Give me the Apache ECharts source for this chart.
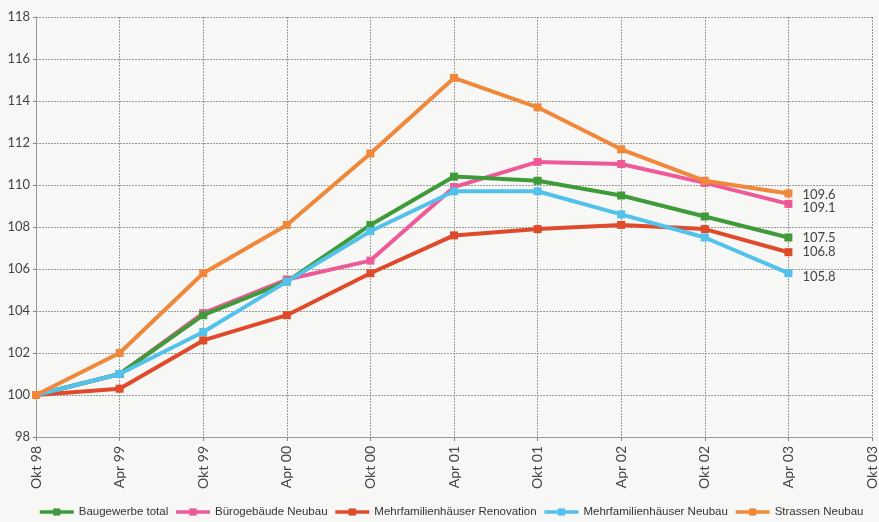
<!DOCTYPE html>
<html>
<head>
<meta charset="utf-8">
<script src="https://cdn.jsdelivr.net/npm/echarts@6/dist/echarts.min.js"></script>
<style>
  html, body { margin: 0; padding: 0; background: #f7f7f6; }
  #chart { width: 879px; height: 522px; }
</style>
</head>
<body>
<div id="chart"></div>
<script>
// Baupreisindex, Okt 98 = 100
const periods = ['Okt 98', 'Apr 99', 'Okt 99', 'Apr 00', 'Okt 00', 'Apr 01', 'Okt 01', 'Apr 02', 'Okt 02', 'Apr 03', 'Okt 03'];

const baugewerbeTotal = [100, 101.0, 103.8, 105.4, 108.1, 110.4, 110.2, 109.5, 108.5, 107.5];
const buerogebaeudeNeubau = [100, 101.0, 103.9, 105.5, 106.4, 109.9, 111.1, 111.0, 110.1, 109.1];
const mfhRenovation = [100, 100.3, 102.6, 103.8, 105.8, 107.6, 107.9, 108.1, 107.9, 106.8];
const mfhNeubau = [100, 101.0, 103.0, 105.4, 107.8, 109.7, 109.7, 108.6, 107.5, 105.8];
const strassenNeubau = [100, 102.0, 105.8, 108.1, 111.5, 115.1, 113.7, 111.7, 110.2, 109.6];

const seriesDefs = [
  { name: 'Baugewerbe total', data: baugewerbeTotal, color: '#3f9b3a', z: 4, shift: 0 },
  { name: 'Bürogebäude Neubau', data: buerogebaeudeNeubau, color: '#ee5a98', z: 3, shift: 4 },
  { name: 'Mehrfamilienhäuser Renovation', data: mfhRenovation, color: '#df4a2b', z: 2, shift: 0 },
  { name: 'Mehrfamilienhäuser Neubau', data: mfhNeubau, color: '#52c2ea', z: 5, shift: 4 },
  { name: 'Strassen Neubau', data: strassenNeubau, color: '#f0883b', z: 6, shift: 1 }
];

const numFont = 'Lato, "Open Sans", sans-serif';

const chart = echarts.init(document.getElementById('chart'));

const series = seriesDefs.map(def => ({
  name: def.name,
  type: 'line',
  z: def.z,
  symbol: 'rect',
  symbolSize: 8,
  lineStyle: { width: 4, color: def.color },
  itemStyle: { color: def.color },
  emphasis: { disabled: true },
  data: def.data.map((v, i) => {
    if (i !== def.data.length - 1) return v;
    return {
      value: v,
      label: {
        show: true,
        position: 'right',
        distance: 10,
        offset: [0, def.shift],
        formatter: p => p.value.toFixed(1),
        color: '#444',
        fontFamily: numFont,
        fontSize: 13
      }
    };
  })
}));

chart.setOption({
  backgroundColor: '#f7f7f6',
  animation: false,
  grid: { left: 36, right: 4, top: 17, bottom: 85, containLabel: false },
  legend: {
    left: 38,
    top: 506,
    padding: 0,
    width: 879,
    itemWidth: 34,
    itemHeight: 9,
    itemGap: 6,
    lineStyle: { width: 3.5 },
    textStyle: {
      fontFamily: '"Liberation Sans", Arial, sans-serif',
      fontSize: 11.5,
      color: '#333'
    },
    data: seriesDefs.map(d => d.name)
  },
  xAxis: {
    type: 'category',
    data: periods,
    boundaryGap: false,
    axisLine: { show: true, lineStyle: { color: '#999', width: 1 } },
    axisTick: { show: true, length: 4, alignWithLabel: true, lineStyle: { color: '#888' } },
    axisLabel: {
      rotate: 90,
      margin: 9,
      interval: 0,
      color: '#444',
      fontFamily: numFont,
      fontSize: 14
    },
    splitLine: { show: true, lineStyle: { color: '#9a9a9a', type: [2, 1], width: 1 } }
  },
  yAxis: {
    type: 'value',
    min: 98,
    max: 118,
    interval: 2,
    axisLine: { show: true, lineStyle: { color: '#999', width: 1 } },
    axisTick: { show: true, length: 3, lineStyle: { color: '#888' } },
    axisLabel: {
      margin: 6,
      color: '#444',
      fontFamily: numFont,
      fontSize: 13
    },
    splitLine: { show: true, lineStyle: { color: '#9a9a9a', type: [2, 1], width: 1 } }
  },
  series: series
});
</script>
</body>
</html>
